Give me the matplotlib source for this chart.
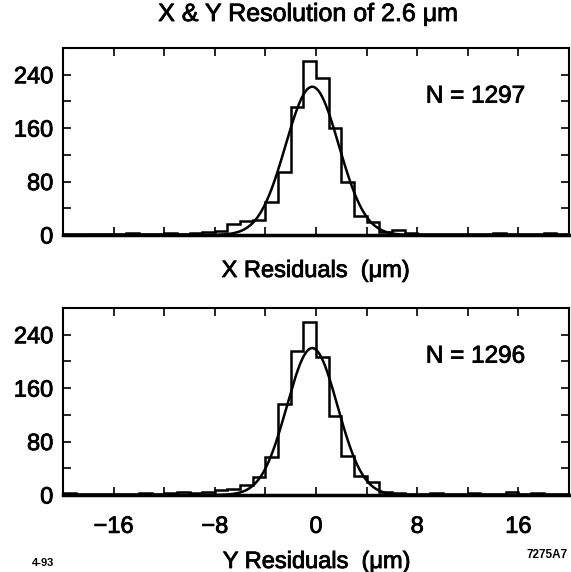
import numpy as np
import matplotlib
matplotlib.use("Agg")
import matplotlib.pyplot as plt
import matplotlib.patheffects as pe

plt.rcParams['font.family'] = ['Liberation Sans', 'DejaVu Sans']
# slightly heavier than regular, like the scanned print
thick = [pe.withStroke(linewidth=0.6, foreground='k')]

# bin edges, 1 um bins from -20 to 20
edges = np.arange(-20, 21, 1)

# counts per bin (bins -20..19)
x_counts = [2, 1, 2, 1, 2, 3, 2, 2, 3, 2, 3, 4,
            6, 16, 21, 22, 50, 94, 191, 261, 235, 160, 80, 29, 20, 5, 8,
            3, 2, 2, 1, 2, 2, 2, 3, 2, 2, 2, 3, 2]
y_counts = [3, 2, 2, 1, 2, 2, 3, 2, 3, 4, 3, 5,
            8, 9, 15, 27, 57, 136, 216, 259, 207, 119, 58, 28, 20, 5, 3,
            2, 2, 3, 2, 2, 3, 2, 2, 4, 2, 3, 2, 2]

# gaussian fits (amplitude, mean, sigma)
x_fit = (222, -0.3, 2.1)
y_fit = (220, -0.3, 2.0)

n_labels = ["N = 1297", "N = 1296"]

fig = plt.figure(figsize=(5.71, 5.72), dpi=100)
W, H = 571, 572
ax1 = fig.add_axes([63/W, 1-235/H, 506/W, 187/H])
ax2 = fig.add_axes([63/W, 1-495/H, 506/W, 187/H])

xs = np.linspace(-20, 20, 800)
for ax, counts, fit, lab in [(ax1, x_counts, x_fit, n_labels[0]),
                             (ax2, y_counts, y_fit, n_labels[1])]:
    ax.stairs(counts, edges, color='k', lw=1.8, baseline=0)
    a, mu, s = fit
    ax.plot(xs, a*np.exp(-0.5*((xs-mu)/s)**2), color='k', lw=1.8)
    ax.set_xlim(-20, 20)
    ax.set_ylim(0, 280)
    ax.set_xticks(np.arange(-16, 17, 4))
    ax.set_yticks(np.arange(0, 281, 40))
    ax.tick_params(direction='in', top=True, right=True, length=6, width=1.2,
                   labelsize=17, pad=7)
    ax.set_yticklabels([str(v) if v % 80 == 0 else '' for v in range(0, 281, 40)])
    for sp in ax.spines.values():
        sp.set_linewidth(1.5)
    ax.spines['bottom'].set_linewidth(2.5)
    ax.text(0.815, 0.74, lab, transform=ax.transAxes, ha='center', va='center',
            fontsize=17.5, path_effects=thick)

ax1.set_xticklabels([])
ax2.set_xticklabels(['\u221216' if v == -16 else '\u22128' if v == -8 else str(v) if v % 8 == 0 else ''
                     for v in range(-16, 17, 4)])
ax2.tick_params(axis='x', pad=15)
for ax in (ax1, ax2):
    for t in ax.get_xticklabels() + ax.get_yticklabels():
        t.set_path_effects(thick)

fig.text(308/W, 1-14/H, "X & Y Resolution of 2.6 \u03bcm", ha='center', va='center',
         fontsize=18, path_effects=thick)
fig.text(316/W, 1-271/H, "X Residuals  (\u03bcm)", ha='center', va='center',
         fontsize=17, path_effects=thick)
fig.text(317/W, 1-562/H, "Y Residuals  (\u03bcm)", ha='center', va='center',
         fontsize=17, path_effects=thick)
fig.text(43/W, 1-563/H, "4-93", ha='center', va='center', fontsize=8, fontweight='bold')
fig.text(547/W, 1-555/H, "7275A7", ha='center', va='center', fontsize=8.5, fontweight='bold')

fig.savefig("out.png", dpi=100)
